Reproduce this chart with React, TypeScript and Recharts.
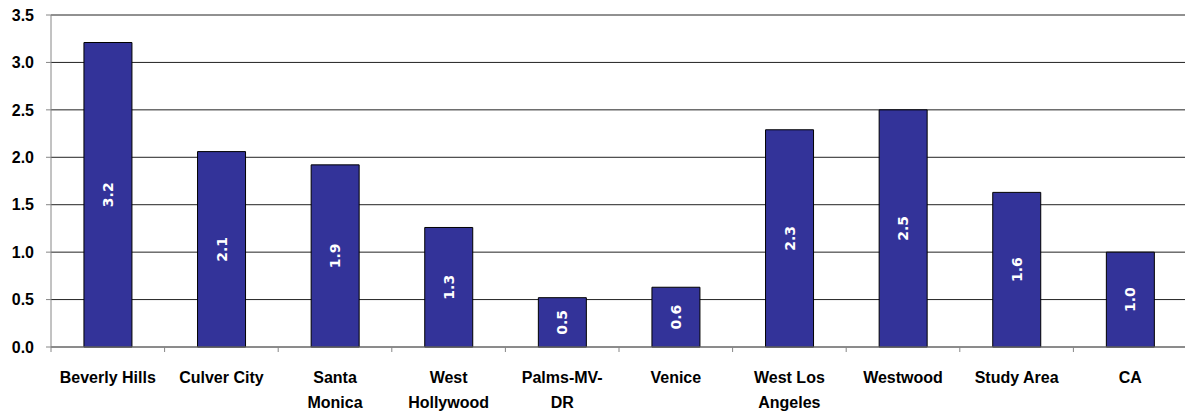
import React from 'react';
import { BarChart, Bar, XAxis, YAxis, CartesianGrid, LabelList } from 'recharts';

const areas = [
  'Beverly Hills',
  'Culver City',
  'Santa Monica',
  'West Hollywood',
  'Palms-MV-DR',
  'Venice',
  'West Los Angeles',
  'Westwood',
  'Study Area',
  'CA',
];

// how each category name wraps under the axis
const areaLines: string[][] = [
  ['Beverly Hills'],
  ['Culver City'],
  ['Santa', 'Monica'],
  ['West', 'Hollywood'],
  ['Palms-MV-', 'DR'],
  ['Venice'],
  ['West Los', 'Angeles'],
  ['Westwood'],
  ['Study Area'],
  ['CA'],
];

const ratios = [3.21, 2.06, 1.92, 1.26, 0.52, 0.63, 2.29, 2.5, 1.63, 1.0];

const yTicks = [0, 0.5, 1, 1.5, 2, 2.5, 3, 3.5];

const data = areas.map((name, i) => ({ name, ratio: ratios[i], lines: areaLines[i] }));

const AXIS_GRAY = '#868686';
const FONT = '"Liberation Sans", Arial, sans-serif';

const AreaTick = (props: any) => {
  const { x, y, index, payload } = props;
  const half = payload && payload.offset ? payload.offset : 57;
  const lines = areaLines[index] || [String(payload.value)];
  return (
    <g>
      <line x1={x - half} y1={y} x2={x - half} y2={y + 5} stroke={AXIS_GRAY} />
      <text
        x={x}
        y={y + 36}
        textAnchor="middle"
        fontFamily={FONT}
        fontWeight="bold"
        fontSize={16}
        fill="#000"
      >
        {lines.map((l, i) => (
          <tspan key={i} x={x} dy={i === 0 ? 0 : 25}>
            {l}
          </tspan>
        ))}
      </text>
    </g>
  );
};

const RatioLabel = (props: any) => {
  const { x, y, width, height, value } = props;
  const cx = x + width / 2;
  const cy = y + height / 2;
  return (
    <text
      x={cx}
      y={cy}
      transform={`rotate(-90 ${cx} ${cy})`}
      textAnchor="middle"
      dominantBaseline="central"
      fill="#fff"
      fontFamily='"DejaVu Sans", Verdana, sans-serif'
      fontWeight="bold"
      fontSize={14}
    >
      {Number(value).toFixed(1)}
    </text>
  );
};

export default function App() {
  return (
    <div
      style={{
        position: 'absolute',
        left: 0,
        top: 0,
        width: 1185,
        height: 413,
        overflow: 'hidden',
        background: '#fff',
      }}
    >
      <BarChart
        width={1189}
        height={413}
        data={data}
        margin={{ top: 15, right: 2, left: 0, bottom: 0 }}
        barCategoryGap="29%"
      >
        <CartesianGrid vertical={false} stroke="#222" />
        <XAxis
          dataKey="name"
          interval={0}
          height={66}
          axisLine={{ stroke: AXIS_GRAY }}
          tickLine={false}
          tickSize={0}
          tickMargin={0}
          tick={<AreaTick />}
        />
        <YAxis
          width={51}
          domain={[0, 3.5]}
          ticks={yTicks}
          interval={0}
          axisLine={{ stroke: AXIS_GRAY }}
          tickLine={{ stroke: AXIS_GRAY }}
          tickSize={5}
          tickMargin={12}
          tickFormatter={(v: number) => v.toFixed(1)}
          tick={{ fontFamily: FONT, fontWeight: 'bold', fontSize: 16, fill: '#000' }}
        />
        <Bar dataKey="ratio" fill="#333399" stroke="#000" strokeWidth={1} isAnimationActive={false}>
          <LabelList dataKey="ratio" content={<RatioLabel />} />
        </Bar>
      </BarChart>
    </div>
  );
}
